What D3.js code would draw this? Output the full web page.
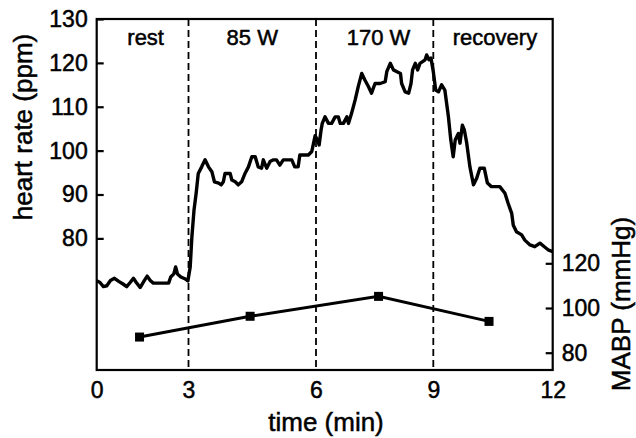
<!DOCTYPE html>
<html>
<head>
<meta charset="utf-8">
<script src="https://cdn.jsdelivr.net/npm/d3@7"></script>
<style>
  body { margin: 0; background: #fff; }
  svg { display: block; font-family: "Liberation Sans", Arial, sans-serif; }
  svg text { stroke: #000; stroke-width: 0.5px; }
</style>
</head>
<body>
<svg id="chart" width="636" height="438"></svg>
<script>
// time axis (min) and phase boundaries
const timeTicks = [0, 3, 6, 9, 12];
const phaseBounds = [3, 6, 9];
const phaseNames = ["rest", "85 W", "170 W", "recovery"];
const phaseCenters = [1.6, 4.5, 7.6, 10.55];

// left axis: heart rate (ppm)
const hrTicks = [80, 90, 100, 110, 120, 130];
const hrTimes = [0.00, 0.10, 0.22, 0.33, 0.45, 0.58, 0.72, 0.86, 0.98, 1.10, 1.20, 1.30, 1.42, 1.55, 1.65, 1.75, 1.85, 2.35, 2.42, 2.52, 2.58, 2.64, 2.75, 2.88, 2.98,
  3.04, 3.08, 3.13, 3.18, 3.23, 3.31, 3.39, 3.47, 3.55, 3.61, 3.71, 3.77, 3.82, 3.86, 3.98, 4.02, 4.10, 4.17, 4.25, 4.33, 4.41, 4.49, 4.57, 4.64, 4.72, 4.76, 4.84, 4.92, 5.00, 5.07, 5.15, 5.23, 5.43, 5.50, 5.58, 5.62, 5.82, 5.90, 5.94, 5.98,
  6.04, 6.08, 6.13, 6.16, 6.23, 6.32, 6.40, 6.49, 6.57, 6.62, 6.70, 6.79, 6.83, 6.91, 7.00, 7.08, 7.17, 7.25, 7.34, 7.42, 7.51, 7.64, 7.77, 7.81, 7.90, 7.98, 8.07, 8.16, 8.19, 8.28, 8.37, 8.43, 8.47, 8.54, 8.60, 8.66, 8.79, 8.83, 8.89, 8.94,
  9.00, 9.06, 9.13, 9.21, 9.29, 9.38, 9.44, 9.50, 9.55, 9.63, 9.67, 9.73, 9.78, 9.84, 9.92, 10.01, 10.09, 10.17, 10.28, 10.36, 10.46, 10.67, 10.80, 10.88, 10.97, 11.01, 11.09, 11.22, 11.30, 11.43, 11.55, 11.68, 11.79, 11.90, 12.00];
const hrValues = [70.3, 70.0, 69.0, 69.2, 70.4, 70.9, 70.2, 69.6, 69.0, 70.0, 70.9, 69.9, 68.8, 70.3, 71.4, 70.4, 69.8, 69.8, 71.2, 71.9, 73.5, 71.9, 71.2, 70.8, 70.3,
  73.5, 80.4, 86.5, 90.3, 94.8, 96.3, 97.9, 96.3, 95.2, 92.9, 92.6, 92.2, 92.9, 94.8, 94.8, 93.3, 92.9, 92.2, 92.9, 94.8, 96.3, 98.6, 98.6, 96.3, 96.0, 97.9, 96.0, 97.5, 97.9, 97.9, 96.7, 97.9, 97.9, 96.3, 96.3, 99.0, 99.0, 99.8, 101.6, 103.4,
  102.4, 101.3, 104.7, 106.2, 107.7, 106.2, 106.2, 107.7, 107.7, 106.2, 106.2, 107.7, 106.2, 108.5, 111.5, 114.6, 117.6, 116.1, 114.6, 113.1, 115.3, 115.3, 115.7, 118.0, 119.9, 118.4, 118.0, 117.6, 115.3, 113.4, 113.1, 115.3, 118.4, 119.9, 118.4, 119.9, 120.7, 121.8, 120.7, 121.1,
  118.0, 113.8, 113.4, 115.0, 113.8, 107.7, 102.4, 98.6, 102.4, 103.9, 101.7, 105.8, 104.7, 101.7, 96.3, 92.2, 93.7, 96.0, 96.0, 92.6, 91.8, 91.8, 90.3, 88.0, 85.7, 83.0, 81.5, 80.8, 79.6, 78.5, 78.1, 78.9, 78.1, 77.3, 77.0];

// right axis: mean arterial blood pressure (mmHg)
const mabpTicks = [80, 100, 120];
const mabpTimes = [1.4, 4.45, 7.6, 10.4];
const mabpValues = [87, 96.3, 105.2, 94];

function createHeartRateChart(svg) {
    const left = 96.7, right = 552.7, top = 19, bottom = 370;

    // time axis of the original is not evenly spaced, so map each tick to where it sits
    const x = d3.scaleLinear().domain(timeTicks).range([left, 188.5, 316, 433.3, right]);
    const yHr = d3.scaleLinear().domain([50, 130]).range([bottom, top]);
    const yBp = d3.scaleLinear().domain([80, 120]).range([352.7, 263.3]);

    const ink = "#000";

    // dashed phase separators
    svg.selectAll(".phase-line")
        .data(phaseBounds)
        .enter()
        .append("line")
        .attr("x1", d => x(d)).attr("x2", d => x(d))
        .attr("y1", top).attr("y2", bottom)
        .attr("stroke", ink)
        .attr("stroke-width", 1.8)
        .attr("stroke-dasharray", "7,4");

    // phase names
    svg.selectAll(".phase-name")
        .data(phaseNames)
        .enter()
        .append("text")
        .attr("x", (d, i) => x(phaseCenters[i]))
        .attr("y", 45)
        .attr("text-anchor", "middle")
        .attr("font-size", 22)
        .text(d => d);

    // heart rate trace
    const hrLine = d3.line()
        .x((d, i) => x(hrTimes[i]))
        .y(d => yHr(d));
    svg.append("path")
        .datum(hrValues)
        .attr("d", hrLine)
        .attr("fill", "none")
        .attr("stroke", ink)
        .attr("stroke-width", 3.4)
        .attr("stroke-linejoin", "round");

    // MABP line with square markers
    const bpLine = d3.line()
        .x((d, i) => x(mabpTimes[i]))
        .y(d => yBp(d));
    svg.append("path")
        .datum(mabpValues)
        .attr("d", bpLine)
        .attr("fill", "none")
        .attr("stroke", ink)
        .attr("stroke-width", 3);
    svg.selectAll(".bp-mark")
        .data(mabpValues)
        .enter()
        .append("rect")
        .attr("x", (d, i) => x(mabpTimes[i]) - 4.5)
        .attr("y", d => yBp(d) - 4.5)
        .attr("width", 9).attr("height", 9)
        .attr("fill", ink);

    // frame
    svg.append("rect")
        .attr("x", left).attr("y", top)
        .attr("width", right - left).attr("height", bottom - top)
        .attr("fill", "none")
        .attr("stroke", ink)
        .attr("stroke-width", 2.2);

    // axes
    const leftAxis = svg.append("g")
        .attr("transform", `translate(${left},0)`)
        .call(d3.axisLeft(yHr).tickValues(hrTicks).tickSize(-7).tickPadding(9));
    const rightAxis = svg.append("g")
        .attr("transform", `translate(${right},0)`)
        .call(d3.axisRight(yBp).tickValues(mabpTicks).tickSize(-7).tickPadding(9));
    const bottomAxis = svg.append("g")
        .attr("transform", `translate(0,${bottom})`)
        .call(d3.axisBottom(x).tickValues(timeTicks).tickSize(0).tickPadding(12));

    [leftAxis, rightAxis, bottomAxis].forEach(g => {
        g.select(".domain").remove();
        g.selectAll("line").attr("stroke", ink).attr("stroke-width", 2.2);
        g.selectAll("text")
            .attr("fill", ink)
            .attr("font-size", 23)
            .attr("font-family", "Liberation Sans, Arial, sans-serif");
    });

    // axis titles
    svg.append("text")
        .attr("transform", "translate(32,127) rotate(-90)")
        .attr("text-anchor", "middle")
        .attr("font-size", 26)
        .text("heart rate (ppm)");
    svg.append("text")
        .attr("transform", "translate(630,304) rotate(-90)")
        .attr("text-anchor", "middle")
        .attr("font-size", 26)
        .text("MABP (mmHg)");
    svg.append("text")
        .attr("x", 326).attr("y", 431)
        .attr("text-anchor", "middle")
        .attr("font-size", 26)
        .text("time (min)");
}

createHeartRateChart(d3.select("#chart"));
</script>
</body>
</html>
